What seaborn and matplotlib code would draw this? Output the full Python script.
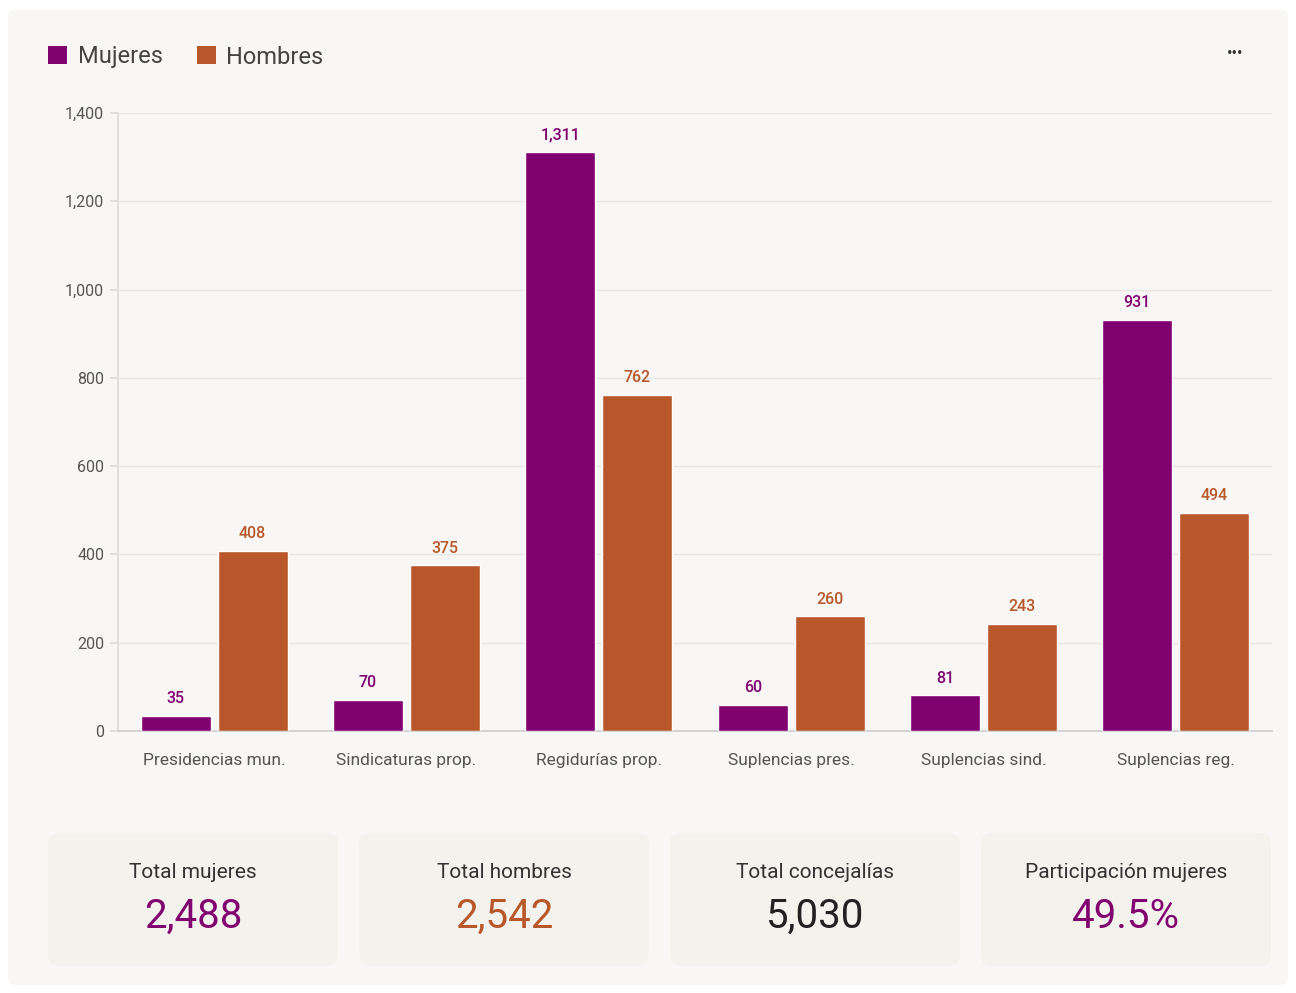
import pandas as pd
import matplotlib.pyplot as plt
import seaborn as sns
from matplotlib.patches import FancyBboxPatch, Patch
from matplotlib.ticker import FuncFormatter

# Data
categorias = ["Presidencias mun.", "Sindicaturas prop.", "Regidurías prop.",
              "Suplencias pres.", "Suplencias sind.", "Suplencias reg."]
mujeres = [35, 70, 1311, 60, 81, 931]
hombres = [408, 375, 762, 260, 243, 494]

card_titles = ["Total mujeres", "Total hombres", "Total concejalías", "Participación mujeres"]
card_values = ["2,488", "2,542", "5,030", "49.5%"]

PURPLE = "#800070"
ORANGE = "#b8582a"
PANEL = "#f8f7f5"
CARD = "#f3f2ec"


def main():
    sns.set_theme(style="white")
    plt.rcParams["font.family"] = ["Roboto", "DejaVu Sans"]

    df = pd.DataFrame({
        "categoria": categorias * 2,
        "valor": mujeres + hombres,
        "serie": ["Mujeres"] * len(categorias) + ["Hombres"] * len(categorias),
    })

    fig = plt.figure(figsize=(12.96, 9.93), dpi=100, facecolor="white")
    W, H = 1296, 993

    # background panel
    fig.patches.append(FancyBboxPatch(
        (8 / W, 8 / H), 1 - 16 / W, 1 - 18 / H,
        boxstyle="round,pad=0,rounding_size=0.006", transform=fig.transFigure,
        facecolor=PANEL, edgecolor="none", zorder=-5))

    ax = fig.add_axes([118 / W, 1 - 731 / H, (1272 - 118) / W, (731 - 113) / H])
    ax.set_facecolor(PANEL)

    sns.barplot(data=df, x="categoria", y="valor", hue="serie",
                palette={"Mujeres": PURPLE, "Hombres": ORANGE},
                width=0.8, gap=0.09, saturation=1, ax=ax, legend=False, zorder=3)

    for cont, col in zip(ax.containers, [PURPLE, ORANGE]):
        ax.bar_label(cont, labels=[f"{v:,.0f}" for v in cont.datavalues],
                     padding=7, color=col, fontsize=11.5, fontweight="medium")

    ax.set_xlim(-0.5, 5.5)
    ax.set_ylim(0, 1400)
    ax.set_yticks(range(0, 1401, 200))
    ax.yaxis.set_major_formatter(FuncFormatter(lambda v, p: f"{v:,.0f}"))
    ax.set_xlabel("")
    ax.set_ylabel("")
    ax.grid(axis="y", color="#e6e5e3", linewidth=1, zorder=0)
    ax.set_axisbelow(True)
    for s in ["top", "right"]:
        ax.spines[s].set_visible(False)
    ax.spines["left"].set_color("#dddddd")
    ax.spines["bottom"].set_color("#cfcfcf")
    ax.tick_params(axis="y", length=6, color="#dddddd", labelsize=11.5,
                   labelcolor="#555555", pad=4, left=True)
    ax.tick_params(axis="x", length=0, labelsize=12.5, labelcolor="#555555", pad=16)

    # legend
    handles = [Patch(facecolor=PURPLE, edgecolor="none"),
               Patch(facecolor=ORANGE, edgecolor="none")]
    fig.legend(handles, ["Mujeres", "Hombres"], loc="center left",
               bbox_to_anchor=(27 / W, 1 - 57 / H), ncol=2, frameon=False,
               handlelength=0.8, handleheight=0.8, handletextpad=0.45,
               columnspacing=1.45, fontsize=17, labelcolor="#444444")

    # menu dots
    fig.text(1235 / W, 1 - 53 / H, "•••", ha="center", va="center",
             fontsize=12, color="#333333")

    # summary cards
    card_colors = [PURPLE, ORANGE, "#222222", PURPLE]
    for i, (t, v, c) in enumerate(zip(card_titles, card_values, card_colors)):
        x0 = 48 + i * 311
        fig.patches.append(FancyBboxPatch(
            (x0 / W, 1 - 966 / H), 290 / W, 133 / H,
            boxstyle="round,pad=0,rounding_size=0.01", transform=fig.transFigure,
            facecolor=CARD, edgecolor="none", zorder=1))
        cx = (x0 + 145) / W
        fig.text(cx, 1 - 873 / H, t, ha="center", va="center",
                 fontsize=15, color="#333333")
        fig.text(cx, 1 - 916 / H, v, ha="center", va="center",
                 fontsize=29, color=c)

    fig.savefig("out.png", dpi=100, facecolor="white")
    plt.close(fig)


if __name__ == "__main__":
    main()
